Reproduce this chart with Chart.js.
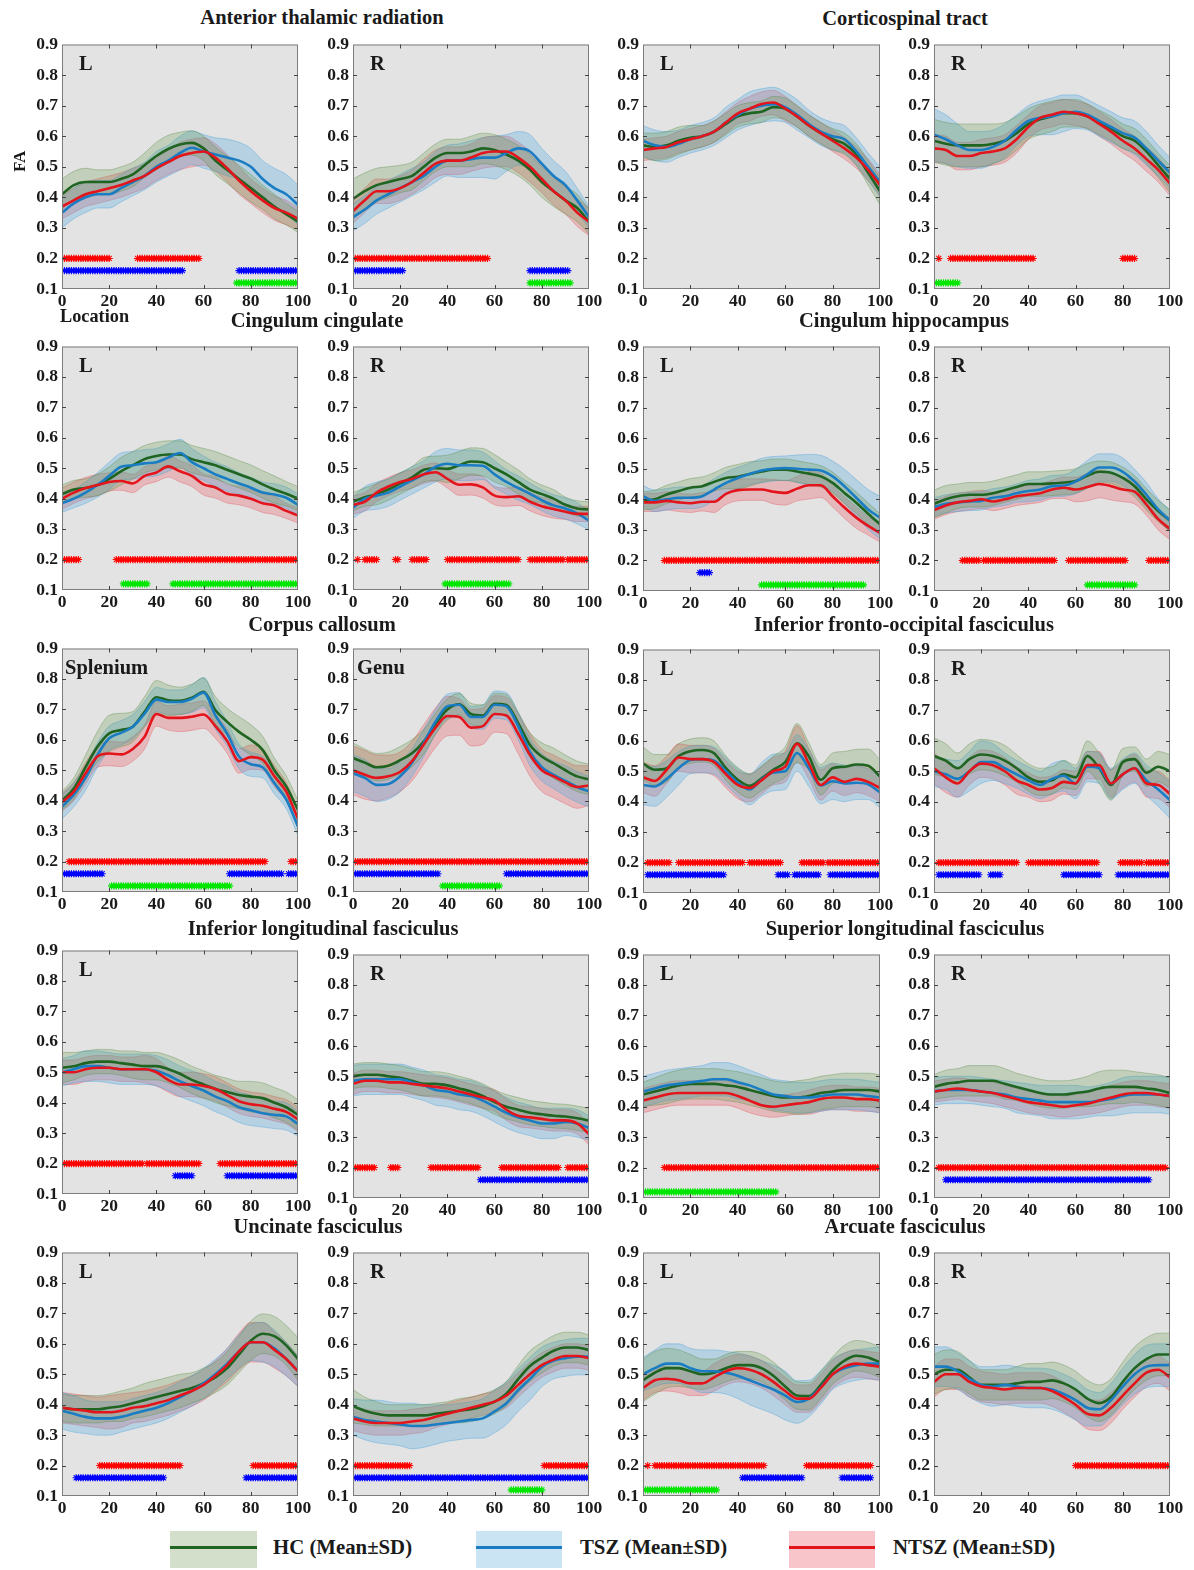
<!DOCTYPE html>
<html><head><meta charset="utf-8">
<script src="https://cdn.jsdelivr.net/npm/chart.js@4.4.1/dist/chart.umd.min.js"></script>
<style>
html,body{margin:0;padding:0;background:#fff;}
#root{position:relative;width:1194px;height:1570px;overflow:hidden;font-family:'Liberation Serif','Times New Roman',serif;font-weight:bold;color:#1a1a1a;}
#root canvas{position:absolute;}
.txt{position:absolute;white-space:nowrap;}
.patch{position:absolute;}
</style></head><body><div id="root"></div>
<script>
// ---------------- DATA ----------------
const LOCS = [0,5,10,15,20,25,30,35,40,45,50,55,60,65,70,75,80,85,90,95,100];
const X_TICKS = [0,20,40,60,80,100];
const X_LABELS = ['0','20','40','60','80','100'];
const Y_TICKS = [0.1,0.2,0.3,0.4,0.5,0.6,0.7,0.8,0.9];
const Y_LABELS = ['0.1','0.2','0.3','0.4','0.5','0.6','0.7','0.8','0.9'];
const GROUPS = ['HC (Mean\u00B1SD)','TSZ (Mean\u00B1SD)','NTSZ (Mean\u00B1SD)'];
const TITLES = ['Anterior thalamic radiation','Corticospinal tract','Cingulum cingulate','Cingulum hippocampus','Corpus callosum','Inferior fronto-occipital fasciculus','Inferior longitudinal fasciculus','Superior longitudinal fasciculus','Uncinate fasciculus','Arcuate fasciculus'];
const SIG_LEVELS = [0.2,0.16,0.12];

// Anterior thalamic radiation L
const atrL_hc   = [0.41,0.44,0.45,0.45,0.45,0.46,0.475,0.505,0.535,0.558,0.573,0.578,0.56,0.52,0.49,0.46,0.43,0.40,0.37,0.345,0.32];
const atrL_hcSd = [0.05,0.045,0.045,0.04,0.04,0.04,0.04,0.04,0.045,0.045,0.04,0.04,0.04,0.045,0.045,0.045,0.045,0.04,0.04,0.035,0.035];
const atrL_tsz   = [0.35,0.38,0.40,0.41,0.41,0.43,0.45,0.47,0.50,0.52,0.545,0.562,0.55,0.54,0.53,0.52,0.50,0.46,0.43,0.41,0.375];
const atrL_tszSd = [0.05,0.05,0.05,0.045,0.045,0.045,0.045,0.045,0.05,0.05,0.055,0.055,0.055,0.055,0.06,0.06,0.06,0.06,0.065,0.065,0.065];
const atrL_ntsz   = [0.37,0.39,0.41,0.42,0.43,0.44,0.455,0.47,0.495,0.515,0.535,0.545,0.55,0.53,0.495,0.455,0.42,0.39,0.365,0.35,0.33];
const atrL_ntszSd = [0.04,0.04,0.04,0.04,0.04,0.04,0.04,0.04,0.04,0.04,0.045,0.045,0.045,0.045,0.045,0.045,0.04,0.04,0.04,0.04,0.035];
const atrL_sigRed = [[1,20],[32,58]], atrL_sigBlue = [[1,51],[75,100]], atrL_sigGreen = [[74,100]];

// Anterior thalamic radiation R
const atrR_hc   = [0.395,0.42,0.44,0.45,0.46,0.47,0.50,0.53,0.545,0.545,0.55,0.56,0.555,0.54,0.52,0.49,0.45,0.42,0.39,0.365,0.32];
const atrR_hcSd = [0.065,0.06,0.055,0.05,0.045,0.045,0.045,0.045,0.045,0.045,0.05,0.05,0.05,0.05,0.05,0.05,0.05,0.05,0.045,0.045,0.04];
const atrR_tsz   = [0.335,0.36,0.39,0.41,0.43,0.45,0.47,0.50,0.52,0.52,0.525,0.53,0.53,0.545,0.56,0.55,0.51,0.47,0.44,0.39,0.335];
const atrR_tszSd = [0.045,0.045,0.045,0.045,0.045,0.045,0.045,0.05,0.05,0.055,0.06,0.065,0.07,0.06,0.055,0.055,0.05,0.05,0.045,0.04,0.035];
const atrR_ntsz   = [0.355,0.39,0.42,0.42,0.43,0.45,0.48,0.51,0.52,0.52,0.53,0.545,0.55,0.55,0.53,0.50,0.46,0.42,0.39,0.35,0.32];
const atrR_ntszSd = [0.04,0.04,0.04,0.04,0.04,0.04,0.045,0.045,0.045,0.045,0.045,0.05,0.05,0.05,0.05,0.05,0.045,0.045,0.045,0.045,0.045];
const atrR_sigRed = [[1,57]], atrR_sigBlue = [[1,21],[75,91]], atrR_sigGreen = [[75,92]];

// Corticospinal tract L
const cstL_hc   = [0.57,0.565,0.57,0.585,0.595,0.60,0.615,0.64,0.665,0.675,0.68,0.695,0.69,0.665,0.635,0.61,0.59,0.575,0.54,0.48,0.42];
const cstL_hcSd = [0.04,0.045,0.045,0.045,0.04,0.035,0.035,0.035,0.035,0.035,0.035,0.035,0.035,0.035,0.035,0.035,0.035,0.035,0.035,0.04,0.045];
const cstL_tsz   = [0.585,0.57,0.565,0.575,0.59,0.60,0.615,0.645,0.67,0.69,0.70,0.705,0.695,0.67,0.64,0.615,0.60,0.59,0.55,0.50,0.45];
const cstL_tszSd = [0.05,0.05,0.05,0.045,0.045,0.045,0.045,0.05,0.05,0.055,0.055,0.055,0.05,0.05,0.045,0.045,0.045,0.045,0.045,0.045,0.05];
const cstL_ntsz   = [0.555,0.56,0.565,0.58,0.59,0.60,0.615,0.645,0.675,0.69,0.705,0.71,0.69,0.665,0.635,0.61,0.585,0.56,0.53,0.49,0.44];
const cstL_ntszSd = [0.035,0.035,0.035,0.035,0.035,0.035,0.035,0.035,0.035,0.04,0.04,0.04,0.04,0.035,0.035,0.035,0.035,0.035,0.035,0.035,0.035];
const cstL_sigRed = [], cstL_sigBlue = [], cstL_sigGreen = [];

// Corticospinal tract R
const cstR_hc   = [0.585,0.575,0.57,0.57,0.57,0.575,0.585,0.61,0.64,0.655,0.665,0.675,0.675,0.665,0.645,0.625,0.60,0.585,0.55,0.505,0.46];
const cstR_hcSd = [0.07,0.07,0.07,0.07,0.07,0.065,0.06,0.055,0.05,0.05,0.05,0.045,0.045,0.04,0.04,0.04,0.04,0.04,0.04,0.04,0.045];
const cstR_tsz   = [0.605,0.59,0.57,0.555,0.555,0.565,0.585,0.62,0.65,0.66,0.665,0.675,0.68,0.67,0.65,0.63,0.61,0.595,0.56,0.52,0.48];
const cstR_tszSd = [0.085,0.08,0.07,0.06,0.06,0.055,0.055,0.05,0.05,0.055,0.06,0.06,0.055,0.05,0.05,0.05,0.05,0.055,0.055,0.05,0.05];
const cstR_ntsz   = [0.56,0.555,0.535,0.535,0.545,0.55,0.56,0.59,0.63,0.66,0.67,0.68,0.675,0.665,0.64,0.615,0.585,0.56,0.525,0.49,0.445];
const cstR_ntszSd = [0.045,0.045,0.045,0.045,0.045,0.045,0.045,0.045,0.04,0.04,0.04,0.04,0.04,0.04,0.04,0.04,0.04,0.04,0.04,0.04,0.04];
const cstR_sigRed = [[2,2],[7,42],[80,85]], cstR_sigBlue = [], cstR_sigGreen = [[1,10]];

// Cingulum cingulate L
const cgL_hc   = [0.415,0.43,0.435,0.445,0.465,0.49,0.51,0.53,0.54,0.545,0.545,0.53,0.52,0.51,0.495,0.48,0.466,0.447,0.43,0.416,0.40];
const cgL_hcSd = [0.03,0.03,0.03,0.035,0.04,0.045,0.045,0.045,0.045,0.045,0.045,0.045,0.045,0.045,0.045,0.045,0.045,0.045,0.045,0.04,0.04];
const cgL_tsz   = [0.385,0.40,0.42,0.445,0.475,0.505,0.51,0.516,0.52,0.535,0.55,0.52,0.50,0.48,0.465,0.45,0.436,0.42,0.414,0.403,0.38];
const cgL_tszSd = [0.03,0.03,0.035,0.04,0.045,0.045,0.045,0.045,0.045,0.045,0.045,0.045,0.04,0.04,0.04,0.035,0.035,0.035,0.035,0.035,0.035];
const cgL_ntsz   = [0.40,0.42,0.435,0.445,0.455,0.458,0.45,0.475,0.486,0.506,0.49,0.475,0.447,0.437,0.416,0.41,0.40,0.385,0.378,0.36,0.345];
const cgL_ntszSd = [0.035,0.035,0.035,0.035,0.03,0.03,0.03,0.03,0.03,0.035,0.035,0.035,0.035,0.035,0.03,0.03,0.03,0.03,0.03,0.025,0.025];
const cgL_sigRed = [[1,7],[23,100]], cgL_sigBlue = [], cgL_sigGreen = [[26,36],[47,100]];

// Cingulum cingulate R
const cgR_hc   = [0.39,0.405,0.415,0.43,0.45,0.47,0.495,0.50,0.498,0.51,0.522,0.52,0.50,0.48,0.455,0.43,0.415,0.40,0.38,0.368,0.365];
const cgR_hcSd = [0.03,0.03,0.035,0.035,0.035,0.035,0.04,0.04,0.045,0.045,0.045,0.045,0.045,0.04,0.04,0.035,0.03,0.03,0.025,0.025,0.025];
const cgR_tsz   = [0.37,0.40,0.41,0.42,0.44,0.46,0.48,0.505,0.515,0.51,0.51,0.508,0.48,0.455,0.435,0.416,0.395,0.378,0.368,0.352,0.328];
const cgR_tszSd = [0.035,0.04,0.045,0.045,0.045,0.045,0.045,0.05,0.05,0.05,0.05,0.045,0.045,0.04,0.04,0.035,0.035,0.035,0.035,0.035,0.03];
const cgR_ntsz   = [0.38,0.39,0.42,0.44,0.455,0.465,0.48,0.487,0.465,0.446,0.447,0.437,0.41,0.405,0.408,0.39,0.375,0.366,0.357,0.35,0.35];
const cgR_ntszSd = [0.03,0.03,0.03,0.03,0.03,0.03,0.03,0.03,0.03,0.035,0.035,0.035,0.03,0.03,0.03,0.03,0.03,0.03,0.025,0.025,0.025];
const cgR_sigRed = [[2,2],[5,10],[18,19],[25,31],[40,70],[75,89],[91,100]], cgR_sigBlue = [], cgR_sigGreen = [[39,66]];

// Cingulum hippocampus L
const chL_hc   = [0.395,0.40,0.416,0.427,0.438,0.443,0.457,0.47,0.474,0.483,0.491,0.497,0.497,0.491,0.484,0.475,0.454,0.421,0.389,0.353,0.318];
const chL_hcSd = [0.03,0.03,0.03,0.03,0.03,0.03,0.03,0.035,0.04,0.04,0.035,0.035,0.035,0.035,0.035,0.035,0.035,0.035,0.035,0.035,0.035];
const chL_tsz   = [0.41,0.395,0.40,0.405,0.405,0.41,0.432,0.454,0.47,0.483,0.494,0.50,0.502,0.50,0.497,0.494,0.475,0.443,0.405,0.367,0.34];
const chL_tszSd = [0.035,0.035,0.035,0.035,0.035,0.035,0.035,0.035,0.035,0.035,0.04,0.04,0.04,0.045,0.05,0.05,0.05,0.055,0.06,0.065,0.07];
const chL_ntsz   = [0.39,0.39,0.395,0.39,0.387,0.392,0.392,0.418,0.43,0.432,0.432,0.425,0.421,0.435,0.446,0.446,0.41,0.373,0.34,0.313,0.29];
const chL_ntszSd = [0.03,0.03,0.03,0.03,0.03,0.03,0.035,0.035,0.035,0.035,0.035,0.04,0.04,0.04,0.045,0.04,0.035,0.035,0.035,0.03,0.03];
const chL_sigRed = [[9,100]], chL_sigBlue = [[24,28]], chL_sigGreen = [[50,93]];

// Cingulum hippocampus R
const chR_hc   = [0.385,0.40,0.41,0.415,0.415,0.42,0.43,0.44,0.45,0.45,0.452,0.455,0.46,0.477,0.49,0.487,0.47,0.443,0.40,0.362,0.33];
const chR_hcSd = [0.045,0.045,0.04,0.04,0.04,0.04,0.04,0.04,0.04,0.04,0.04,0.04,0.04,0.04,0.035,0.035,0.035,0.035,0.035,0.035,0.035];
const chR_tsz   = [0.375,0.385,0.39,0.393,0.395,0.405,0.41,0.42,0.427,0.432,0.443,0.445,0.458,0.482,0.504,0.504,0.49,0.458,0.415,0.367,0.33];
const chR_tszSd = [0.03,0.03,0.03,0.03,0.03,0.03,0.03,0.03,0.035,0.035,0.035,0.035,0.04,0.045,0.045,0.045,0.045,0.04,0.04,0.035,0.035];
const chR_ntsz   = [0.365,0.38,0.39,0.395,0.40,0.393,0.40,0.41,0.415,0.42,0.432,0.438,0.432,0.44,0.45,0.443,0.432,0.425,0.383,0.335,0.303];
const chR_ntszSd = [0.03,0.03,0.03,0.03,0.03,0.03,0.03,0.03,0.03,0.03,0.03,0.035,0.04,0.045,0.045,0.045,0.04,0.04,0.035,0.035,0.035];
const chR_sigRed = [[12,19],[21,51],[57,81],[91,100]], chR_sigBlue = [], chR_sigGreen = [[65,85]];

// Corpus callosum splenium
const ccS_hc   = [0.40,0.44,0.51,0.577,0.621,0.632,0.643,0.692,0.74,0.73,0.728,0.738,0.758,0.697,0.659,0.626,0.60,0.567,0.50,0.447,0.37];
const ccS_hcSd = [0.03,0.035,0.04,0.05,0.06,0.055,0.05,0.05,0.055,0.05,0.045,0.045,0.045,0.045,0.045,0.05,0.05,0.045,0.04,0.035,0.03];
const ccS_tsz   = [0.38,0.42,0.475,0.55,0.605,0.623,0.643,0.686,0.732,0.724,0.724,0.735,0.755,0.68,0.62,0.545,0.52,0.51,0.457,0.404,0.315];
const ccS_tszSd = [0.04,0.04,0.04,0.04,0.04,0.04,0.04,0.04,0.04,0.04,0.04,0.045,0.05,0.045,0.04,0.04,0.04,0.035,0.035,0.03,0.03];
const ccS_ntsz   = [0.395,0.43,0.49,0.545,0.555,0.552,0.57,0.61,0.685,0.672,0.672,0.676,0.683,0.645,0.596,0.53,0.543,0.535,0.48,0.43,0.34];
const ccS_ntszSd = [0.03,0.03,0.035,0.035,0.04,0.04,0.04,0.04,0.04,0.04,0.045,0.045,0.045,0.04,0.04,0.04,0.04,0.035,0.035,0.03,0.03];
const ccS_sigRed = [[3,86],[97,100]], ccS_sigBlue = [[1,17],[71,93],[96,100]], ccS_sigGreen = [[21,71]];

// Corpus callosum genu
const ccG_hc   = [0.54,0.525,0.51,0.515,0.533,0.556,0.594,0.653,0.70,0.717,0.685,0.68,0.718,0.714,0.655,0.583,0.545,0.523,0.50,0.48,0.47];
const ccG_hcSd = [0.05,0.045,0.045,0.045,0.045,0.045,0.04,0.035,0.035,0.035,0.035,0.035,0.035,0.035,0.035,0.04,0.045,0.05,0.05,0.05,0.05];
const ccG_tsz   = [0.49,0.475,0.452,0.455,0.48,0.525,0.59,0.66,0.71,0.715,0.675,0.675,0.715,0.71,0.645,0.56,0.51,0.485,0.465,0.445,0.43];
const ccG_tszSd = [0.06,0.06,0.055,0.05,0.05,0.045,0.045,0.04,0.04,0.04,0.035,0.04,0.045,0.045,0.045,0.045,0.045,0.045,0.05,0.05,0.05];
const ccG_ntsz   = [0.50,0.485,0.475,0.48,0.495,0.53,0.585,0.64,0.678,0.675,0.64,0.645,0.685,0.68,0.62,0.55,0.50,0.48,0.46,0.445,0.45];
const ccG_ntszSd = [0.08,0.08,0.075,0.07,0.065,0.065,0.065,0.065,0.065,0.06,0.06,0.06,0.06,0.06,0.065,0.07,0.07,0.07,0.07,0.07,0.065];
const ccG_sigRed = [[1,100]], ccG_sigBlue = [[1,36],[65,100]], ccG_sigGreen = [[38,62]];

// Inferior fronto-occipital fasciculus L
const ifoL_hc   = [0.525,0.505,0.51,0.55,0.566,0.57,0.559,0.51,0.472,0.452,0.477,0.505,0.53,0.592,0.548,0.472,0.51,0.515,0.522,0.518,0.483];
const ifoL_hcSd = [0.055,0.05,0.045,0.04,0.04,0.04,0.04,0.04,0.04,0.04,0.04,0.045,0.05,0.065,0.045,0.05,0.05,0.05,0.05,0.055,0.055];
const ifoL_tsz   = [0.455,0.45,0.475,0.51,0.537,0.54,0.535,0.50,0.463,0.44,0.473,0.496,0.50,0.56,0.51,0.453,0.467,0.46,0.462,0.457,0.43];
const ifoL_tszSd = [0.065,0.065,0.06,0.055,0.045,0.045,0.045,0.045,0.045,0.05,0.055,0.06,0.06,0.06,0.06,0.06,0.06,0.06,0.055,0.05,0.05];
const ifoL_ntsz   = [0.48,0.468,0.505,0.545,0.54,0.54,0.53,0.49,0.455,0.445,0.47,0.50,0.515,0.59,0.525,0.455,0.48,0.465,0.475,0.465,0.445];
const ifoL_ntszSd = [0.05,0.05,0.045,0.045,0.045,0.045,0.045,0.045,0.045,0.045,0.045,0.045,0.05,0.06,0.05,0.05,0.045,0.045,0.045,0.045,0.045];
const ifoL_sigRed = [[2,11],[15,42],[45,58],[67,76],[78,100]], ifoL_sigBlue = [[2,34],[57,61],[64,74],[79,100]], ifoL_sigGreen = [];

// Inferior fronto-occipital fasciculus R
const ifoR_hc   = [0.55,0.535,0.51,0.54,0.555,0.55,0.535,0.51,0.48,0.465,0.47,0.49,0.48,0.55,0.51,0.455,0.53,0.54,0.495,0.515,0.50];
const ifoR_hcSd = [0.06,0.055,0.05,0.05,0.05,0.05,0.05,0.045,0.045,0.045,0.045,0.045,0.04,0.05,0.05,0.05,0.045,0.04,0.045,0.05,0.055];
const ifoR_tsz   = [0.50,0.49,0.475,0.50,0.53,0.53,0.51,0.49,0.47,0.455,0.475,0.485,0.46,0.515,0.51,0.46,0.49,0.51,0.47,0.44,0.405];
const ifoR_tszSd = [0.05,0.05,0.06,0.065,0.07,0.06,0.05,0.045,0.045,0.045,0.05,0.05,0.05,0.05,0.05,0.05,0.05,0.05,0.05,0.055,0.06];
const ifoR_ntsz   = [0.51,0.48,0.46,0.50,0.525,0.52,0.50,0.47,0.455,0.44,0.445,0.465,0.46,0.52,0.52,0.46,0.49,0.51,0.46,0.455,0.425];
const ifoR_ntszSd = [0.05,0.05,0.045,0.045,0.045,0.045,0.045,0.045,0.04,0.04,0.04,0.04,0.04,0.045,0.045,0.045,0.045,0.045,0.045,0.045,0.045];
const ifoR_sigRed = [[2,35],[40,69],[79,88],[90,100]], ifoR_sigBlue = [[2,19],[24,28],[55,70],[78,100]], ifoR_sigGreen = [];

// Inferior longitudinal fasciculus L
const ilfL_hc   = [0.515,0.52,0.53,0.535,0.535,0.53,0.525,0.52,0.52,0.51,0.495,0.475,0.46,0.445,0.435,0.425,0.42,0.415,0.40,0.385,0.36];
const ilfL_hcSd = [0.05,0.045,0.04,0.04,0.04,0.04,0.045,0.045,0.045,0.045,0.045,0.045,0.045,0.045,0.045,0.045,0.05,0.05,0.05,0.05,0.05];
const ilfL_tsz   = [0.50,0.51,0.52,0.52,0.515,0.51,0.51,0.51,0.505,0.49,0.47,0.455,0.44,0.42,0.405,0.385,0.375,0.365,0.36,0.355,0.33];
const ilfL_tszSd = [0.045,0.045,0.05,0.05,0.05,0.05,0.05,0.05,0.05,0.05,0.05,0.05,0.05,0.05,0.05,0.05,0.05,0.045,0.045,0.045,0.04];
const ilfL_ntsz   = [0.50,0.50,0.51,0.515,0.515,0.51,0.51,0.51,0.50,0.475,0.46,0.46,0.455,0.445,0.425,0.405,0.395,0.39,0.38,0.37,0.345];
const ilfL_ntszSd = [0.04,0.04,0.04,0.04,0.04,0.04,0.04,0.045,0.045,0.04,0.04,0.04,0.04,0.04,0.04,0.04,0.04,0.04,0.04,0.04,0.04];
const ilfL_sigRed = [[1,34],[36,58],[67,100]], ilfL_sigBlue = [[48,55],[70,100]], ilfL_sigGreen = [];

// Inferior longitudinal fasciculus R
const ilfR_hc   = [0.50,0.505,0.505,0.50,0.495,0.485,0.475,0.475,0.47,0.46,0.45,0.435,0.415,0.40,0.39,0.38,0.375,0.37,0.368,0.362,0.355];
const ilfR_hcSd = [0.04,0.04,0.04,0.04,0.04,0.04,0.04,0.04,0.04,0.04,0.04,0.04,0.04,0.04,0.04,0.04,0.04,0.04,0.04,0.04,0.04];
const ilfR_tsz   = [0.485,0.49,0.49,0.49,0.49,0.48,0.47,0.455,0.45,0.44,0.435,0.42,0.40,0.38,0.365,0.355,0.345,0.345,0.35,0.345,0.33];
const ilfR_tszSd = [0.05,0.05,0.05,0.05,0.05,0.05,0.05,0.05,0.05,0.05,0.05,0.05,0.05,0.05,0.05,0.05,0.05,0.05,0.045,0.045,0.04];
const ilfR_ntsz   = [0.475,0.485,0.485,0.48,0.48,0.475,0.47,0.465,0.46,0.45,0.44,0.43,0.42,0.39,0.37,0.365,0.36,0.355,0.355,0.345,0.31];
const ilfR_ntszSd = [0.035,0.035,0.035,0.035,0.035,0.035,0.035,0.035,0.035,0.035,0.035,0.035,0.035,0.035,0.035,0.035,0.035,0.035,0.035,0.035,0.035];
const ilfR_sigRed = [[1,9],[16,19],[33,53],[63,87],[91,100]], ilfR_sigBlue = [[54,100]], ilfR_sigGreen = [];

// Superior longitudinal fasciculus L
const slfL_hc   = [0.44,0.45,0.46,0.47,0.475,0.475,0.475,0.47,0.465,0.455,0.445,0.435,0.43,0.43,0.435,0.445,0.45,0.455,0.455,0.455,0.45];
const slfL_hcSd = [0.04,0.045,0.05,0.05,0.05,0.05,0.05,0.05,0.05,0.05,0.05,0.05,0.05,0.055,0.055,0.055,0.055,0.055,0.055,0.055,0.055];
const slfL_tsz   = [0.45,0.46,0.47,0.475,0.48,0.485,0.49,0.49,0.48,0.47,0.455,0.44,0.435,0.43,0.43,0.435,0.44,0.44,0.44,0.435,0.43];
const slfL_tszSd = [0.05,0.05,0.05,0.05,0.05,0.05,0.055,0.055,0.055,0.05,0.05,0.05,0.05,0.05,0.05,0.05,0.05,0.05,0.05,0.05,0.05];
const slfL_ntsz   = [0.42,0.43,0.44,0.445,0.445,0.445,0.445,0.445,0.435,0.42,0.405,0.40,0.405,0.41,0.415,0.425,0.43,0.43,0.425,0.425,0.42];
const slfL_ntszSd = [0.04,0.04,0.04,0.04,0.04,0.04,0.04,0.04,0.04,0.04,0.035,0.035,0.035,0.035,0.04,0.04,0.04,0.04,0.04,0.04,0.04];
const slfL_sigRed = [[9,100]], slfL_sigBlue = [], slfL_sigGreen = [[1,56]];

// Superior longitudinal fasciculus R
const slfR_hc   = [0.465,0.475,0.48,0.485,0.485,0.485,0.475,0.465,0.455,0.445,0.44,0.44,0.445,0.45,0.46,0.465,0.465,0.465,0.46,0.455,0.445];
const slfR_hcSd = [0.04,0.045,0.045,0.05,0.05,0.05,0.05,0.045,0.045,0.045,0.045,0.045,0.045,0.05,0.055,0.055,0.055,0.05,0.05,0.05,0.05];
const slfR_tsz   = [0.45,0.455,0.455,0.455,0.45,0.445,0.44,0.43,0.425,0.42,0.415,0.415,0.415,0.415,0.42,0.425,0.435,0.44,0.44,0.44,0.435];
const slfR_tszSd = [0.045,0.045,0.045,0.045,0.045,0.045,0.045,0.05,0.05,0.05,0.055,0.055,0.055,0.05,0.05,0.055,0.06,0.06,0.06,0.06,0.06];
const slfR_ntsz   = [0.45,0.455,0.46,0.455,0.45,0.445,0.435,0.425,0.415,0.41,0.405,0.40,0.405,0.41,0.42,0.43,0.44,0.445,0.445,0.44,0.435];
const slfR_ntszSd = [0.035,0.035,0.035,0.035,0.035,0.035,0.035,0.035,0.035,0.035,0.035,0.035,0.035,0.035,0.04,0.04,0.04,0.04,0.04,0.04,0.04];
const slfR_sigRed = [[2,98]], slfR_sigBlue = [[5,91]], slfR_sigGreen = [];

// Uncinate fasciculus L
const ufL_hc   = [0.39,0.385,0.385,0.385,0.39,0.395,0.405,0.415,0.425,0.435,0.445,0.455,0.47,0.49,0.52,0.565,0.61,0.633,0.625,0.595,0.55];
const ufL_hcSd = [0.045,0.045,0.045,0.045,0.045,0.05,0.05,0.055,0.055,0.055,0.055,0.05,0.05,0.05,0.055,0.06,0.065,0.065,0.065,0.065,0.07];
const ufL_tsz   = [0.38,0.37,0.36,0.355,0.355,0.36,0.37,0.38,0.39,0.405,0.425,0.445,0.47,0.50,0.535,0.575,0.605,0.605,0.585,0.55,0.51];
const ufL_tszSd = [0.06,0.06,0.055,0.055,0.055,0.05,0.05,0.05,0.05,0.05,0.05,0.05,0.05,0.05,0.05,0.055,0.06,0.065,0.06,0.055,0.05];
const ufL_ntsz   = [0.39,0.385,0.38,0.375,0.375,0.38,0.39,0.395,0.405,0.415,0.43,0.445,0.465,0.495,0.53,0.575,0.605,0.605,0.58,0.55,0.51];
const ufL_ntszSd = [0.05,0.05,0.05,0.05,0.055,0.055,0.05,0.05,0.05,0.05,0.05,0.05,0.05,0.05,0.055,0.06,0.065,0.065,0.06,0.055,0.05];
const ufL_sigRed = [[16,50],[81,100]], ufL_sigBlue = [[6,43],[78,100]], ufL_sigGreen = [];

// Uncinate fasciculus R
const ufR_hc   = [0.395,0.38,0.37,0.365,0.365,0.365,0.365,0.37,0.375,0.38,0.385,0.395,0.41,0.436,0.484,0.527,0.554,0.577,0.588,0.588,0.579];
const ufR_hcSd = [0.055,0.045,0.04,0.035,0.035,0.035,0.035,0.035,0.035,0.04,0.04,0.04,0.04,0.04,0.045,0.05,0.05,0.05,0.05,0.05,0.05];
const ufR_tsz   = [0.36,0.35,0.345,0.34,0.335,0.33,0.33,0.335,0.34,0.345,0.35,0.355,0.378,0.405,0.448,0.485,0.524,0.545,0.553,0.558,0.558];
const ufR_tszSd = [0.06,0.065,0.07,0.07,0.07,0.075,0.07,0.065,0.06,0.06,0.06,0.065,0.07,0.07,0.07,0.07,0.065,0.06,0.06,0.06,0.06];
const ufR_ntsz   = [0.355,0.345,0.34,0.34,0.34,0.345,0.35,0.36,0.37,0.38,0.39,0.40,0.41,0.43,0.465,0.50,0.53,0.548,0.56,0.56,0.553];
const ufR_ntszSd = [0.04,0.04,0.04,0.04,0.04,0.04,0.04,0.035,0.035,0.035,0.035,0.035,0.035,0.04,0.04,0.04,0.04,0.04,0.04,0.04,0.04];
const ufR_sigRed = [[1,24],[81,100]], ufR_sigBlue = [[1,100]], ufR_sigGreen = [[67,80]];

// Arcuate fasciculus L
const afL_hc   = [0.48,0.505,0.52,0.52,0.51,0.50,0.505,0.52,0.53,0.53,0.52,0.495,0.46,0.43,0.428,0.465,0.512,0.545,0.561,0.555,0.539];
const afL_hcSd = [0.07,0.07,0.065,0.06,0.055,0.05,0.045,0.045,0.045,0.045,0.045,0.045,0.045,0.045,0.045,0.045,0.045,0.05,0.05,0.05,0.05];
const afL_tsz   = [0.50,0.52,0.535,0.535,0.52,0.51,0.51,0.505,0.495,0.48,0.465,0.45,0.43,0.409,0.42,0.457,0.50,0.52,0.53,0.535,0.535];
const afL_tszSd = [0.055,0.06,0.065,0.065,0.065,0.07,0.07,0.07,0.075,0.08,0.08,0.08,0.08,0.07,0.06,0.055,0.05,0.05,0.05,0.05,0.055];
const afL_ntsz   = [0.455,0.48,0.485,0.48,0.47,0.47,0.49,0.51,0.52,0.515,0.50,0.475,0.445,0.42,0.42,0.455,0.50,0.525,0.535,0.53,0.525];
const afL_ntszSd = [0.04,0.04,0.04,0.04,0.04,0.04,0.045,0.045,0.045,0.045,0.045,0.045,0.045,0.045,0.045,0.045,0.045,0.045,0.045,0.045,0.045];
const afL_sigRed = [[2,2],[5,51],[69,96]], afL_sigBlue = [[42,67],[84,96]], afL_sigGreen = [[1,31]];

// Arcuate fasciculus R
const afR_hc   = [0.50,0.515,0.515,0.49,0.465,0.465,0.465,0.47,0.475,0.475,0.48,0.47,0.45,0.42,0.405,0.425,0.475,0.52,0.55,0.565,0.565];
const afR_hcSd = [0.065,0.065,0.06,0.055,0.05,0.05,0.05,0.055,0.06,0.06,0.06,0.06,0.06,0.06,0.06,0.06,0.065,0.07,0.07,0.07,0.07];
const afR_tsz   = [0.525,0.525,0.51,0.485,0.465,0.46,0.465,0.46,0.455,0.455,0.45,0.435,0.415,0.39,0.385,0.415,0.46,0.50,0.525,0.53,0.53];
const afR_tszSd = [0.065,0.065,0.06,0.06,0.06,0.065,0.065,0.065,0.065,0.065,0.065,0.065,0.065,0.06,0.055,0.055,0.06,0.065,0.07,0.07,0.07];
const afR_ntsz   = [0.475,0.50,0.50,0.475,0.46,0.455,0.45,0.455,0.455,0.455,0.445,0.425,0.40,0.37,0.365,0.39,0.43,0.47,0.505,0.515,0.49];
const afR_ntszSd = [0.05,0.05,0.05,0.05,0.05,0.05,0.05,0.05,0.05,0.05,0.05,0.05,0.05,0.05,0.05,0.05,0.045,0.045,0.045,0.045,0.045];
const afR_sigRed = [[60,100]], afR_sigBlue = [], afR_sigGreen = [];

// ---------------- TABLE FOR THE LIBRARY ----------------
const SERIES = {
  atrL:[atrL_hc,atrL_hcSd,atrL_tsz,atrL_tszSd,atrL_ntsz,atrL_ntszSd,atrL_sigRed,atrL_sigBlue,atrL_sigGreen],
  atrR:[atrR_hc,atrR_hcSd,atrR_tsz,atrR_tszSd,atrR_ntsz,atrR_ntszSd,atrR_sigRed,atrR_sigBlue,atrR_sigGreen],
  cstL:[cstL_hc,cstL_hcSd,cstL_tsz,cstL_tszSd,cstL_ntsz,cstL_ntszSd,cstL_sigRed,cstL_sigBlue,cstL_sigGreen],
  cstR:[cstR_hc,cstR_hcSd,cstR_tsz,cstR_tszSd,cstR_ntsz,cstR_ntszSd,cstR_sigRed,cstR_sigBlue,cstR_sigGreen],
  cgL:[cgL_hc,cgL_hcSd,cgL_tsz,cgL_tszSd,cgL_ntsz,cgL_ntszSd,cgL_sigRed,cgL_sigBlue,cgL_sigGreen],
  cgR:[cgR_hc,cgR_hcSd,cgR_tsz,cgR_tszSd,cgR_ntsz,cgR_ntszSd,cgR_sigRed,cgR_sigBlue,cgR_sigGreen],
  chL:[chL_hc,chL_hcSd,chL_tsz,chL_tszSd,chL_ntsz,chL_ntszSd,chL_sigRed,chL_sigBlue,chL_sigGreen],
  chR:[chR_hc,chR_hcSd,chR_tsz,chR_tszSd,chR_ntsz,chR_ntszSd,chR_sigRed,chR_sigBlue,chR_sigGreen],
  ccS:[ccS_hc,ccS_hcSd,ccS_tsz,ccS_tszSd,ccS_ntsz,ccS_ntszSd,ccS_sigRed,ccS_sigBlue,ccS_sigGreen],
  ccG:[ccG_hc,ccG_hcSd,ccG_tsz,ccG_tszSd,ccG_ntsz,ccG_ntszSd,ccG_sigRed,ccG_sigBlue,ccG_sigGreen],
  ifoL:[ifoL_hc,ifoL_hcSd,ifoL_tsz,ifoL_tszSd,ifoL_ntsz,ifoL_ntszSd,ifoL_sigRed,ifoL_sigBlue,ifoL_sigGreen],
  ifoR:[ifoR_hc,ifoR_hcSd,ifoR_tsz,ifoR_tszSd,ifoR_ntsz,ifoR_ntszSd,ifoR_sigRed,ifoR_sigBlue,ifoR_sigGreen],
  ilfL:[ilfL_hc,ilfL_hcSd,ilfL_tsz,ilfL_tszSd,ilfL_ntsz,ilfL_ntszSd,ilfL_sigRed,ilfL_sigBlue,ilfL_sigGreen],
  ilfR:[ilfR_hc,ilfR_hcSd,ilfR_tsz,ilfR_tszSd,ilfR_ntsz,ilfR_ntszSd,ilfR_sigRed,ilfR_sigBlue,ilfR_sigGreen],
  slfL:[slfL_hc,slfL_hcSd,slfL_tsz,slfL_tszSd,slfL_ntsz,slfL_ntszSd,slfL_sigRed,slfL_sigBlue,slfL_sigGreen],
  slfR:[slfR_hc,slfR_hcSd,slfR_tsz,slfR_tszSd,slfR_ntsz,slfR_ntszSd,slfR_sigRed,slfR_sigBlue,slfR_sigGreen],
  ufL:[ufL_hc,ufL_hcSd,ufL_tsz,ufL_tszSd,ufL_ntsz,ufL_ntszSd,ufL_sigRed,ufL_sigBlue,ufL_sigGreen],
  ufR:[ufR_hc,ufR_hcSd,ufR_tsz,ufR_tszSd,ufR_ntsz,ufR_ntszSd,ufR_sigRed,ufR_sigBlue,ufR_sigGreen],
  afL:[afL_hc,afL_hcSd,afL_tsz,afL_tszSd,afL_ntsz,afL_ntszSd,afL_sigRed,afL_sigBlue,afL_sigGreen],
  afR:[afR_hc,afR_hcSd,afR_tsz,afR_tszSd,afR_ntsz,afR_ntszSd,afR_sigRed,afR_sigBlue,afR_sigGreen]
};

// ---------------- LAYOUT & STYLE ----------------
const COLS = [[62,298],[353,589],[643,880],[934,1170]];
const PANELS = [
  {k:'atrL',c:0,y:[42,289],lab:'L'},{k:'atrR',c:1,y:[42,289],lab:'R'},{k:'cstL',c:2,y:[42,289],lab:'L'},{k:'cstR',c:3,y:[42,289],lab:'R'},
  {k:'cgL',c:0,y:[344,590],lab:'L'},{k:'cgR',c:1,y:[344,590],lab:'R'},{k:'chL',c:2,y:[344,591],lab:'L'},{k:'chR',c:3,y:[344,591],lab:'R'},
  {k:'ccS',c:0,y:[646,892],lab:'Splenium',dx:3},{k:'ccG',c:1,y:[646,892],lab:'Genu',dx:4},{k:'ifoL',c:2,y:[647,893],lab:'L'},{k:'ifoR',c:3,y:[647,893],lab:'R'},
  {k:'ilfL',c:0,y:[948,1194],lab:'L'},{k:'ilfR',c:1,y:[952,1198],lab:'R'},{k:'slfL',c:2,y:[952,1198],lab:'L'},{k:'slfR',c:3,y:[952,1198],lab:'R'},
  {k:'ufL',c:0,y:[1250,1496],lab:'L'},{k:'ufR',c:1,y:[1250,1496],lab:'R'},{k:'afL',c:2,y:[1250,1496],lab:'L'},{k:'afR',c:3,y:[1250,1496],lab:'R'}
];
const TITLE_POS = [[322,24.5],[905,25],[317,327],[904,327],[322,631],[904,631],[323,935],[905,935],[318,1233],[905,1233]];

const FONT = "'Liberation Serif','Times New Roman',serif";
const COL = {
  bg:'#e3e3e3', frame:'#7d7d7d', tick:'#444444', text:'#1a1a1a',
  line:['#1f6421','#1a7dc3','#e3141b'],
  fill:['rgba(100,150,70,0.26)','rgba(80,170,225,0.30)','rgba(235,90,100,0.30)'],
  edge:['rgba(80,135,60,0.35)','rgba(70,160,220,0.40)','rgba(230,80,90,0.38)'],
  sig:['#ff0000','#0000ff','#00e600'],
  patch:['rgb(211,223,203)','rgb(203,228,243)','rgb(248,198,202)']
};

const root = document.getElementById('root');

function pts(arr){ return arr.map((v,i)=>({x:LOCS[i], y:v})); }
function bandPts(mean, sd, s){ return mean.map((v,i)=>({x:LOCS[i], y:v + s*sd[i]})); }
function sigPts(ranges, level){ const out=[]; ranges.forEach(([a,b])=>{ for(let i=a;i<=b;i++) out.push({x:i,y:level}); }); return out; }

const framePlugin = {
  id:'frame',
  beforeDraw(chart){
    const a=chart.chartArea, ctx=chart.ctx;
    ctx.save(); ctx.fillStyle=COL.bg; ctx.fillRect(a.left,a.top,a.right-a.left,a.bottom-a.top); ctx.restore();
  },
  afterDatasetsDraw(chart, args, opts){
    const a=chart.chartArea, ctx=chart.ctx, xs=chart.scales.x, ys=chart.scales.y;
    ctx.save();
    ctx.strokeStyle=COL.frame; ctx.lineWidth=1;
    ctx.strokeRect(a.left+0.5, a.top+0.5, a.right-a.left-1, a.bottom-a.top-1);
    ctx.strokeStyle=COL.tick;
    ctx.beginPath();
    X_TICKS.slice(1,-1).forEach(v=>{ const px=Math.round(xs.getPixelForValue(v))+0.5;
      ctx.moveTo(px,a.bottom); ctx.lineTo(px,a.bottom-4); ctx.moveTo(px,a.top); ctx.lineTo(px,a.top+4); });
    Y_TICKS.slice(1,-1).forEach(v=>{ const py=Math.round(ys.getPixelForValue(v))+0.5;
      ctx.moveTo(a.left,py); ctx.lineTo(a.left+4,py); ctx.moveTo(a.right,py); ctx.lineTo(a.right-4,py); });
    ctx.stroke();
    ctx.fillStyle=COL.text; ctx.font='bold 20.5px '+FONT; ctx.textBaseline='alphabetic'; ctx.textAlign='left';
    ctx.fillText(opts.label, a.left+opts.dx, a.top+25.5);
    ctx.restore();
  }
};

const PADL=50, PADT=12, PADR=22, PADB=24;
const tickFont = {family:FONT, size:17.5, weight:'bold'};

PANELS.forEach(p=>{
  const [x0,x1] = COLS[p.c]; const [y0,y1] = p.y;
  const w = PADL + (x1-x0) + PADR, h = PADT + (y1-y0) + PADB;
  const cv = document.createElement('canvas');
  cv.width=w; cv.height=h; cv.style.width=w+'px'; cv.style.height=h+'px';
  cv.style.left=(x0-PADL)+'px'; cv.style.top=(y0-PADT)+'px';
  root.appendChild(cv);
  const S = SERIES[p.k];
  const ds = [];
  for(let g=0; g<3; g++){
    const mean=S[g*2], sd=S[g*2+1];
    ds.push({data:bandPts(mean,sd,1), borderColor:COL.edge[g], borderWidth:1, backgroundColor:COL.fill[g], fill:'+1', pointRadius:0, cubicInterpolationMode:'monotone', order:10+g});
    ds.push({data:bandPts(mean,sd,-1), borderColor:COL.edge[g], borderWidth:1, fill:false, pointRadius:0, cubicInterpolationMode:'monotone', order:10+g});
  }
  for(let g=0; g<3; g++){
    ds.push({data:pts(S[g*2]), borderColor:COL.line[g], borderWidth:2.6, fill:false, pointRadius:0, cubicInterpolationMode:'monotone', order:3-g});
  }
  for(let s=0; s<3; s++){
    ds.push({data:sigPts(S[6+s], SIG_LEVELS[s]), showLine:false, pointStyle:'star', pointRadius:3.6, pointBorderWidth:1.1,
      pointBorderColor:COL.sig[s], pointBackgroundColor:COL.sig[s], order:0});
  }
  new Chart(cv, {
    type:'line',
    data:{datasets:ds},
    options:{
      responsive:false, animation:false, devicePixelRatio:1, events:[],
      layout:{padding:{top:PADT,right:PADR,left:0,bottom:0}},
      plugins:{legend:{display:false}, tooltip:{enabled:false}, frame:{label:p.lab, dx:(p.dx!==undefined?p.dx:17)}},
      scales:{
        x:{type:'linear', min:0, max:100,
          afterFit(s){ s.height=PADB; },
          afterBuildTicks(s){ s.ticks = X_TICKS.map(v=>({value:v})); },
          grid:{display:false, drawTicks:false}, border:{display:false},
          ticks:{font:tickFont, color:COL.text, padding:2, maxRotation:0, autoSkip:false, callback:(v,i)=>X_LABELS[i]}},
        y:{type:'linear', min:0.1, max:0.9,
          afterFit(s){ s.width=PADL; },
          afterBuildTicks(s){ s.ticks = Y_TICKS.map(v=>({value:v})); },
          grid:{display:false, drawTicks:false}, border:{display:false},
          ticks:{font:tickFont, color:COL.text, padding:4, autoSkip:false, callback:(v,i)=>Y_LABELS[i]}}
      }
    },
    plugins:[framePlugin]
  });
});

// ---------------- TEXT ----------------
function addText(txt, x, baseline, size, align){
  const d=document.createElement('div'); d.className='txt'; d.textContent=txt;
  d.style.fontSize=size+'px'; d.style.lineHeight=size+'px';
  d.style.top=(baseline-0.8375*size)+'px';
  if(align==='center'){ d.style.left=x+'px'; d.style.transform='translateX(-50%)'; }
  else d.style.left=x+'px';
  root.appendChild(d); return d;
}
TITLES.forEach((t,i)=>addText(t, TITLE_POS[i][0], TITLE_POS[i][1], 20.5, 'center'));
addText('Location', 60, 322.5, 18.3, 'left');
const fa = addText('FA', 9, 166, 17, 'left');
fa.style.transformOrigin='0 0'; fa.style.left='11px'; fa.style.top='172px'; fa.style.transform='rotate(-90deg)';

// legend
const LEG = [[170,257,273],[476,562,580],[789,875,893]];
LEG.forEach(([a,b,tx],g)=>{
  const pd=document.createElement('div'); pd.className='patch';
  pd.style.left=a+'px'; pd.style.top='1531px'; pd.style.width=(b-a)+'px'; pd.style.height='37px'; pd.style.background=COL.patch[g];
  root.appendChild(pd);
  const ln=document.createElement('div'); ln.className='patch';
  ln.style.left=a+'px'; ln.style.top='1546px'; ln.style.width=(b-a)+'px'; ln.style.height='3px'; ln.style.background=COL.line[g];
  root.appendChild(ln);
  addText(GROUPS[g], tx, 1554, 20.8, 'left');
});
</script>
</body></html>
